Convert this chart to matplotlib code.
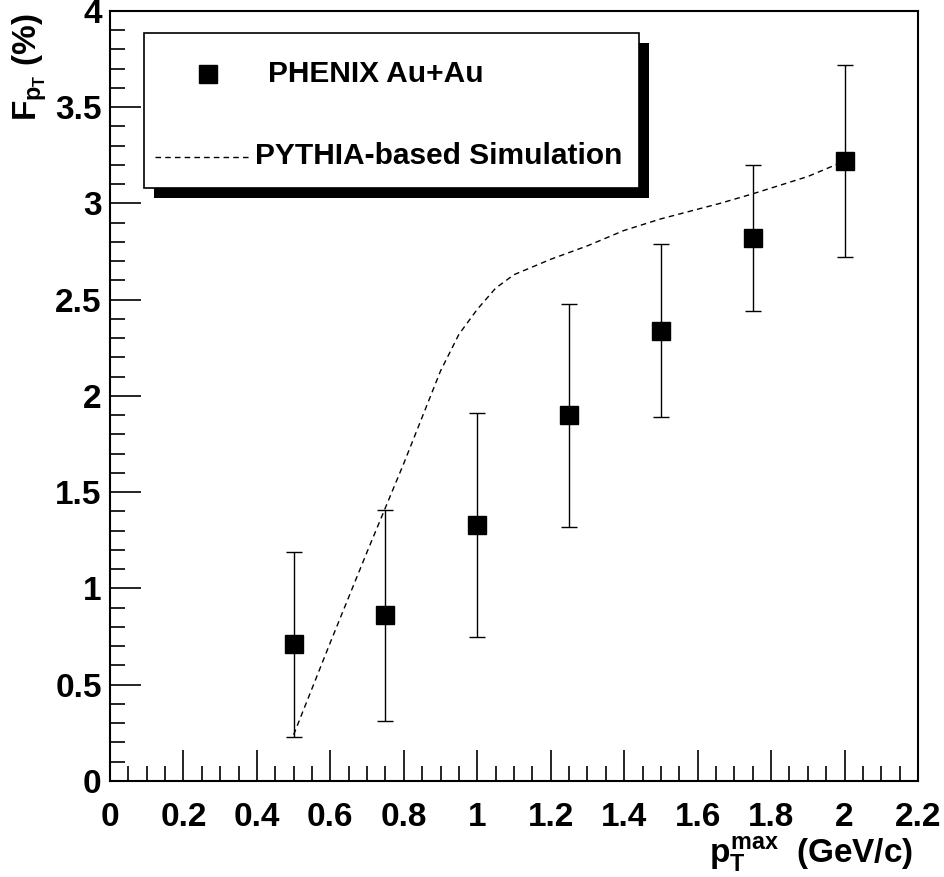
import matplotlib.pyplot as plt
from matplotlib.patches import Rectangle
from matplotlib.ticker import MultipleLocator

plt.rcParams['font.family'] = ['Liberation Sans', 'DejaVu Sans']
plt.rcParams['font.weight'] = 'bold'
plt.rcParams['mathtext.fontset'] = 'custom'
plt.rcParams['mathtext.rm'] = 'Liberation Sans:bold'
plt.rcParams['mathtext.it'] = 'Liberation Sans:bold'
plt.rcParams['mathtext.bf'] = 'Liberation Sans:bold'

# PHENIX Au+Au data
pt_max = [0.5, 0.75, 1.0, 1.25, 1.5, 1.75, 2.0]
f_pt = [0.71, 0.86, 1.33, 1.90, 2.34, 2.82, 3.22]
f_err = [0.48, 0.55, 0.58, 0.58, 0.45, 0.38, 0.50]

# PYTHIA-based simulation curve
sim_x = [0.5, 0.6, 0.7, 0.75, 0.8, 0.9, 0.95, 1.0, 1.05, 1.1, 1.2, 1.3, 1.4, 1.5, 1.66, 1.75, 1.9, 2.0]
sim_y = [0.24, 0.72, 1.19, 1.42, 1.65, 2.13, 2.32, 2.45, 2.56, 2.63, 2.71, 2.78, 2.86, 2.92, 3.0, 3.05, 3.14, 3.22]

x_ticks = [0, 0.2, 0.4, 0.6, 0.8, 1, 1.2, 1.4, 1.6, 1.8, 2, 2.2]
x_labels = ['0', '0.2', '0.4', '0.6', '0.8', '1', '1.2', '1.4', '1.6', '1.8', '2', '2.2']
y_ticks = [0, 0.5, 1, 1.5, 2, 2.5, 3, 3.5, 4]
y_labels = ['0', '0.5', '1', '1.5', '2', '2.5', '3', '3.5', '4']

fig = plt.figure(figsize=(9.45, 8.77), dpi=100)
ax = fig.add_axes([0.1164, 0.1095, 0.855, 0.878])

ax.errorbar(pt_max, f_pt, yerr=f_err, fmt='s', color='black', ms=13,
            elinewidth=1.0, capsize=6, capthick=1.0, zorder=3)
ax.plot(sim_x, sim_y, color='black', lw=1.0, dashes=(4, 3), zorder=2)

ax.set_xlim(0, 2.2)
ax.set_ylim(0, 4)
ax.xaxis.set_minor_locator(MultipleLocator(0.05))
ax.yaxis.set_minor_locator(MultipleLocator(0.1))
ax.set_xticks(x_ticks)
ax.set_xticklabels(x_labels)
ax.set_yticks(y_ticks)
ax.set_yticklabels(y_labels)
ax.tick_params(which='both', direction='in', top=False, right=False, width=1.2,
               labelsize=24)
ax.tick_params(axis='x', pad=15)
ax.tick_params(axis='y', pad=6)
ax.tick_params(which='major', length=22)
ax.tick_params(which='minor', length=11)
for s in ax.spines.values():
    s.set_linewidth(1.5)

ax.set_xlabel(r'$p_{T}^{max}\;$ (GeV/c)', fontsize=24, fontweight='bold', ha='right', va='baseline')
ax.xaxis.set_label_coords(0.9938, -0.1065)
ax.set_ylabel(r'$F_{p_{T}}$ (%)', fontsize=24, fontweight='bold', ha='right', va='baseline')
ax.yaxis.set_label_coords(-0.0903, 0.997)

# legend box (ROOT style, with solid shadow)
tr = ax.transAxes
ax.add_patch(Rectangle((0.0421 + 0.0124, 0.7701 - 0.013), 0.6126, 0.2013, transform=tr,
                       facecolor='black', edgecolor='none', zorder=4, clip_on=False))
ax.add_patch(Rectangle((0.0421, 0.7701), 0.6126, 0.2013, transform=tr,
                       facecolor='white', edgecolor='black', lw=1.2, zorder=5, clip_on=False))
ax.plot([0.1213], [0.9182], 's', color='black', ms=13, transform=tr, zorder=6)
ax.plot([0.0557, 0.1733], [0.8104, 0.8104], color='black', lw=1.0, dashes=(4, 3),
        transform=tr, zorder=6)
ax.text(0.1955, 0.9078, 'PHENIX Au+Au', fontsize=21.5, fontweight='bold', va='baseline',
        transform=tr, zorder=6)
ax.text(0.1795, 0.8013, 'PYTHIA-based Simulation', fontsize=21.5, fontweight='bold',
        va='baseline', transform=tr, zorder=6)

fig.savefig('out.png', dpi=100)
